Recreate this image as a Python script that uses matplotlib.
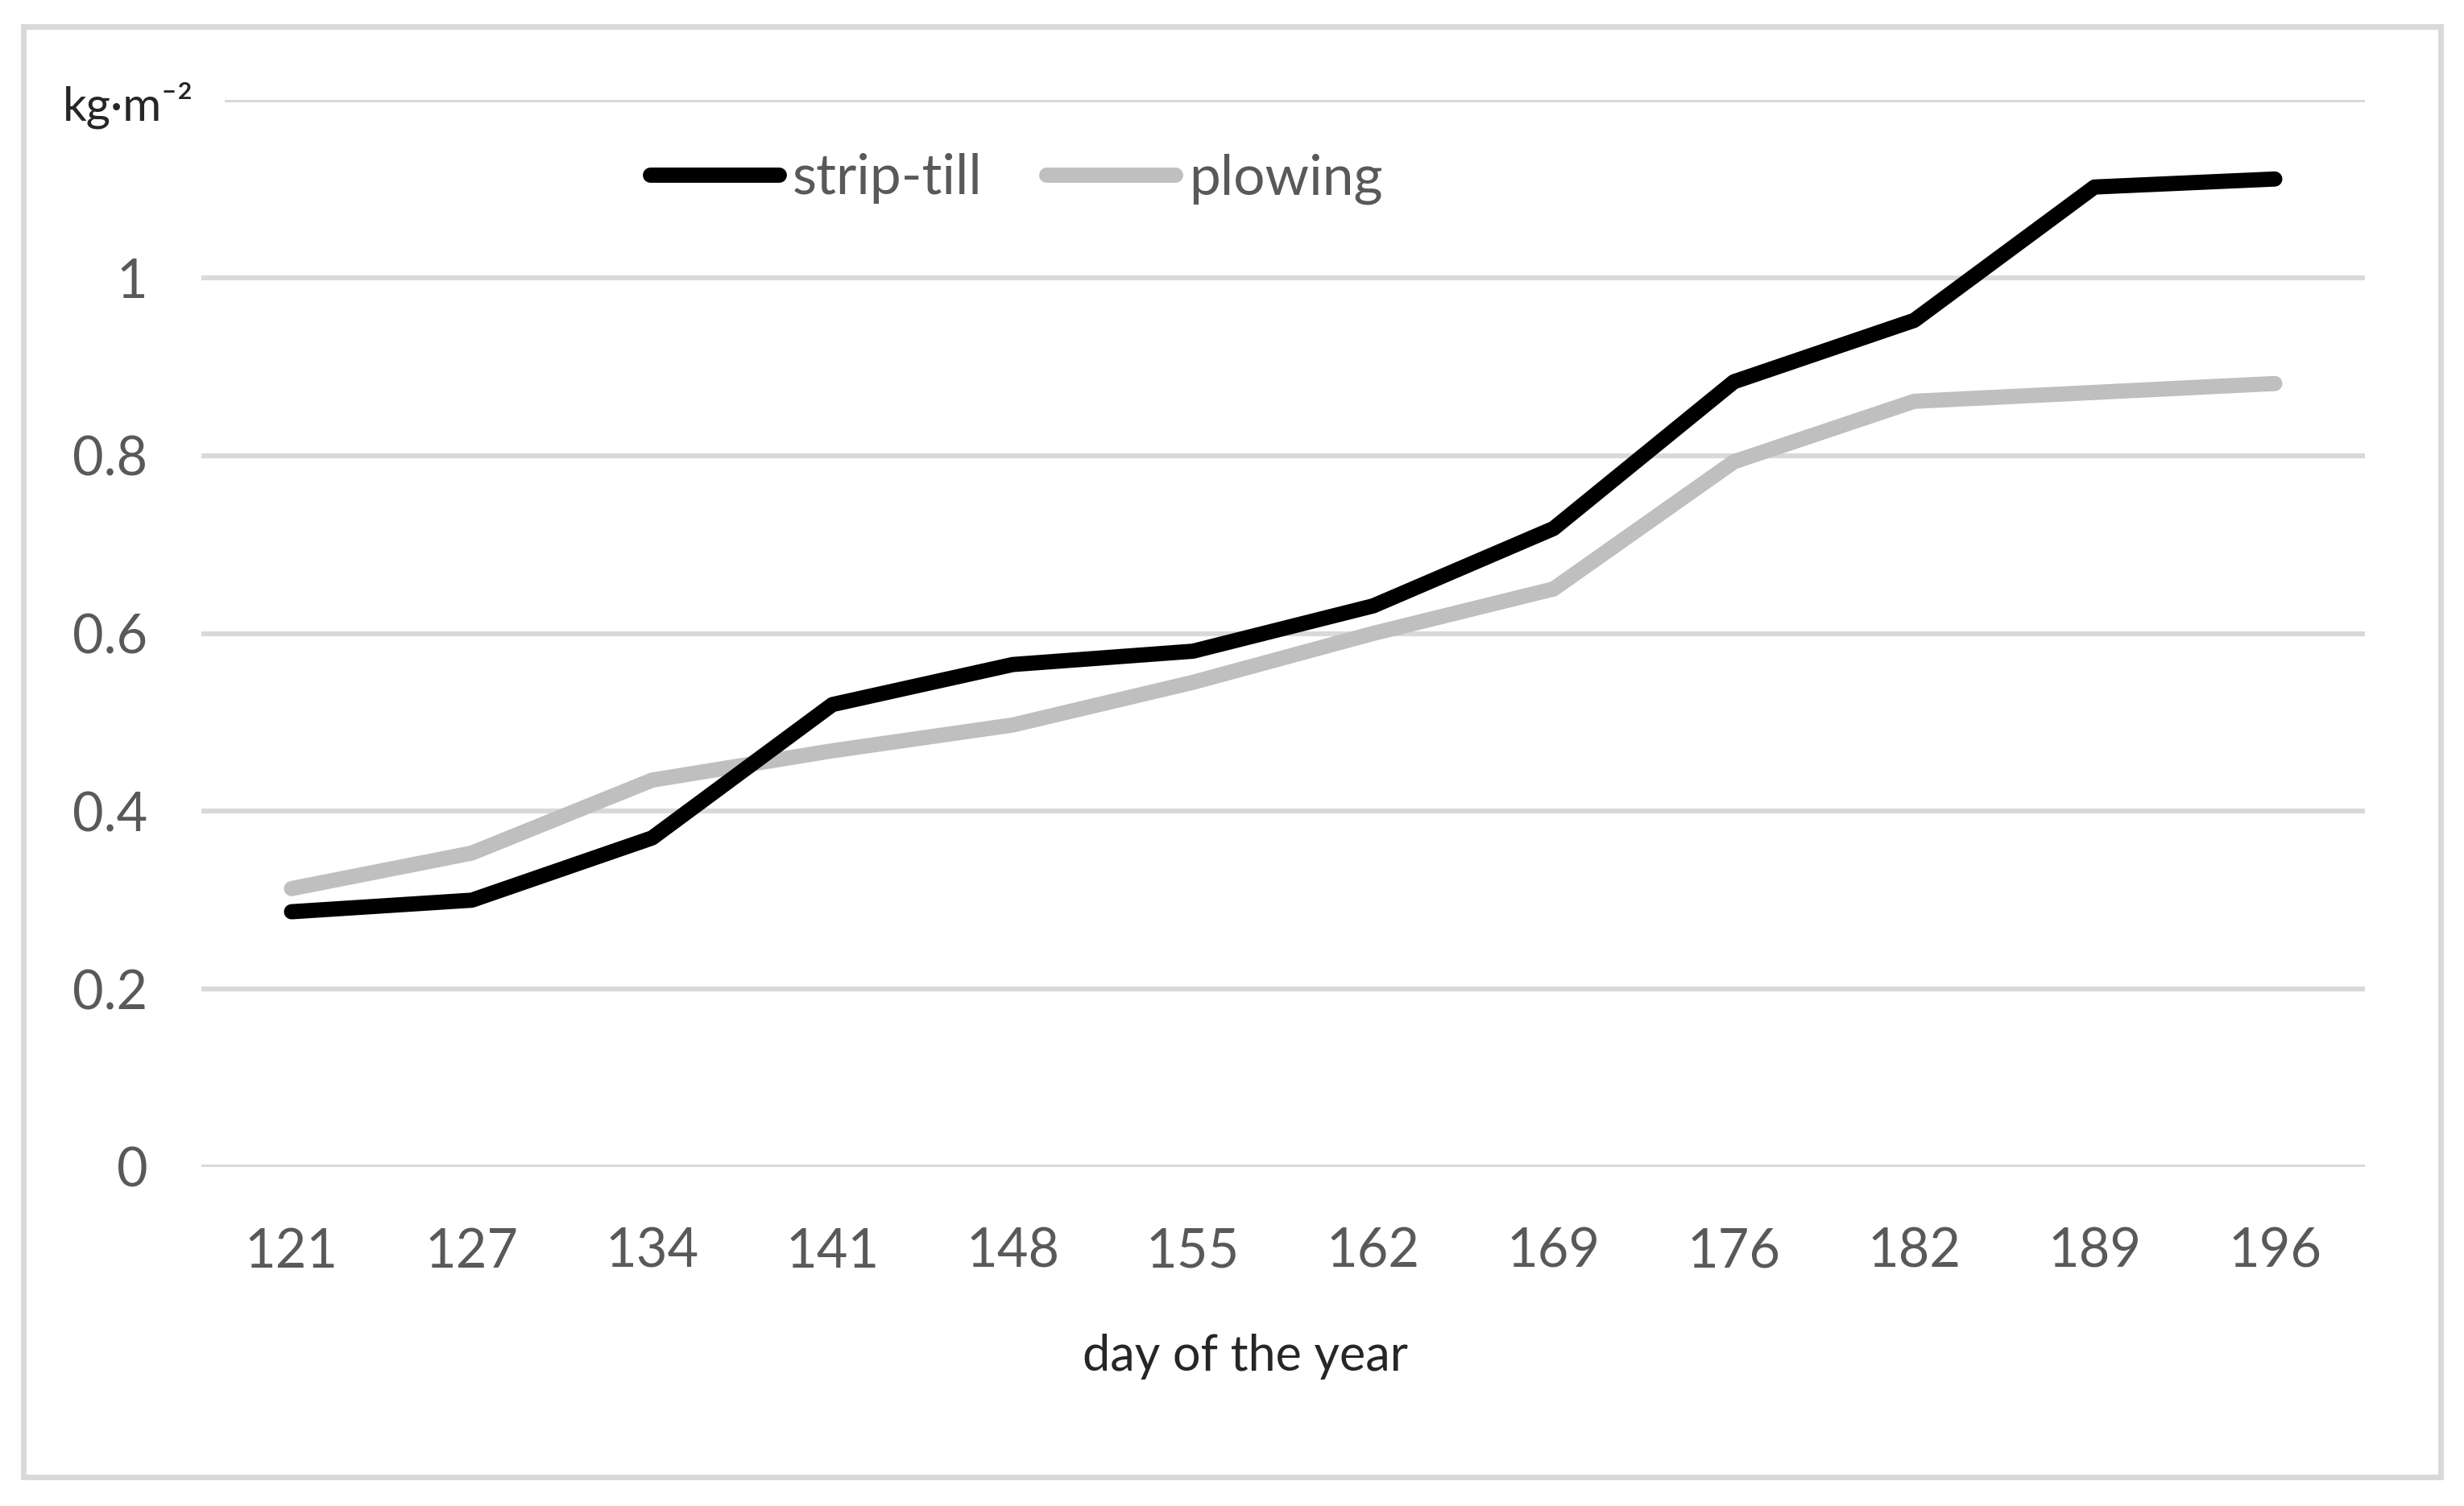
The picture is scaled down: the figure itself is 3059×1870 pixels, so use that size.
import numpy as np
import matplotlib
matplotlib.use("Agg")
import matplotlib.pyplot as plt
from matplotlib.patches import Rectangle

plt.rcParams["font.family"] = ["Lato", "DejaVu Sans"]

days = ["121", "127", "134", "141", "148", "155", "162", "169", "176", "182", "189", "196"]
strip_till = [0.287, 0.300, 0.370, 0.520, 0.565, 0.580, 0.631, 0.718, 0.883, 0.952, 1.102, 1.111]
plowing = [0.313, 0.353, 0.435, 0.468, 0.497, 0.545, 0.600, 0.650, 0.793, 0.861, 0.871, 0.881]
yticks = [0, 0.2, 0.4, 0.6, 0.8, 1.0]
ytick_labels = ["0", "0.2", "0.4", "0.6", "0.8", "1"]

W, H = 3059, 1870
fig = plt.figure(figsize=(W / 200, H / 200), dpi=200)
ax = fig.add_axes([250 / W, 1 - 1449 / H, (2936 - 250) / W, (1449 - 124) / H])

# gridlines (Excel style light grey), 1.2 line drawn as top gridline
for v in yticks + [1.2]:
    ax.axhline(v, color="#D9D9D9", lw=2.2, zorder=1)

x = np.arange(len(days))
ax.plot(x, strip_till, color="black", lw=6.8, solid_capstyle="round", solid_joinstyle="round",
        label="strip-till", zorder=3)
ax.plot(x, plowing, color="#BFBFBF", lw=6.8, solid_capstyle="round", solid_joinstyle="round",
        label="plowing", zorder=2)

ax.set_xlim(-0.5, len(days) - 0.5)
ax.set_ylim(0, 1.2)
ax.set_xticks(x)
ax.set_xticklabels(days)
ax.set_yticks(yticks)
ax.set_yticklabels(ytick_labels)
ax.tick_params(length=0, labelsize=24, colors="#595959")
ax.tick_params(axis="x", pad=27)
ax.tick_params(axis="y", pad=24)
for s in ax.spines.values():
    s.set_visible(False)

# unit label sits where the 1.2 tick label would be, masking the start of the gridline
fig.text(78 / W, 1 - 150 / H, "kg·m⁻²", fontsize=21, color="#262626", ha="left", va="baseline",
         bbox=dict(facecolor="white", edgecolor="none", pad=14))
fig.text(1546 / W, 1 - 1702 / H, "day of the year", fontsize=22, color="#262626",
         ha="center", va="baseline")

leg = fig.legend(loc="center", bbox_to_anchor=(1262 / W, 1 - 222 / H), ncol=2, frameon=False,
                 fontsize=25, handlelength=2.3, handletextpad=0.25, columnspacing=1.15)
for t in leg.get_texts():
    t.set_color("#595959")

# outer chart border
fig.patches.append(Rectangle((29 / W, 1 - 1834 / H), (3030 - 29) / W, (1834 - 33) / H,
                             transform=fig.transFigure, fill=False, edgecolor="#D9D9D9", lw=2.5))

fig.savefig("out.png", dpi=200, facecolor="white")
